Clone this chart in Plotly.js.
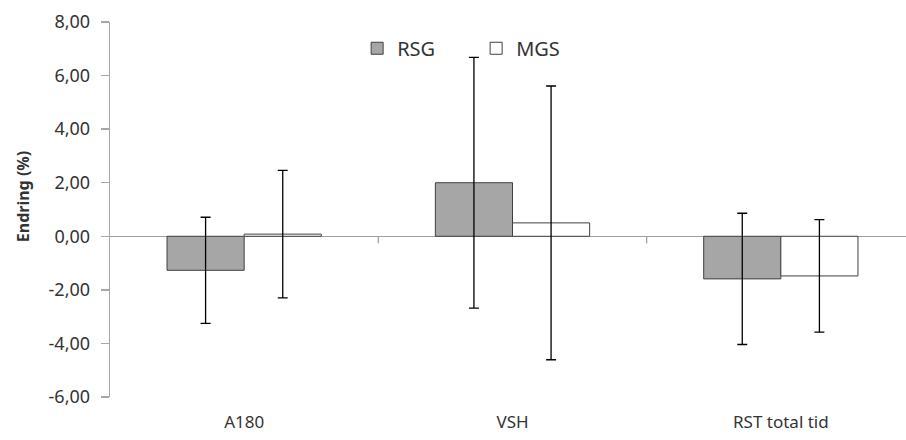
<!DOCTYPE html>
<html>
<head>
<meta charset="utf-8">
<script src="https://cdn.plot.ly/plotly-3.0.1.min.js"></script>
<style>
html,body{margin:0;padding:0;overflow:hidden;background:#fff;width:906px;height:440px;}
#chart{width:920px;height:440px;}
</style>
</head>
<body>
<div id="chart"></div>
<script>
var categories = ["A180", "VSH", "RST total tid"];
var rsgValues = [-1.27, 2.0, -1.59];
var rsgErrors = [1.98, 4.68, 2.45];
var mgsValues = [0.08, 0.50, -1.48];
var mgsErrors = [2.38, 5.11, 2.10];
var yTickVals = [-6, -4, -2, 0, 2, 4, 6, 8];
var yTickText = ["-6,00", "-4,00", "-2,00", "0,00", "2,00", "4,00", "6,00", "8,00"];
var yTitle = "Endring (%)";

var fam = "Noto Sans, Liberation Sans, sans-serif";
var col = "#333333";

var traces = [
  {
    type: "bar", name: "RSG", x: categories, y: rsgValues,
    marker: {color: "#a6a6a6", line: {color: "#404040", width: 1}},
    error_y: {type: "data", array: rsgErrors, visible: true, color: "#000000", thickness: 1.3, width: 5}
  },
  {
    type: "bar", name: "MGS", x: categories, y: mgsValues,
    marker: {color: "#ffffff", line: {color: "#404040", width: 1}},
    error_y: {type: "data", array: mgsErrors, visible: true, color: "#000000", thickness: 1.3, width: 5}
  }
];

var layout = {
  width: 920, height: 440,
  margin: {l: 110, r: 5, t: 22, b: 43},
  paper_bgcolor: "#ffffff", plot_bgcolor: "#ffffff",
  font: {family: fam, size: 18, color: col},
  barmode: "group", bargap: 0.425, bargroupgap: 0,
  showlegend: true,
  legend: {orientation: "h", x: 0.307, y: 0.93, xanchor: "left", yanchor: "middle",
           font: {family: fam, size: 20, color: col}, bgcolor: "rgba(0,0,0,0)",
           entrywidth: 74, traceorder: "normal"},
  xaxis: {
    type: "category", range: [-0.5, 2.5], showgrid: false, showline: false,
    zeroline: false, ticks: "", tickfont: {family: fam, size: 17, color: col},
    ticklabelstandoff: 13, fixedrange: true, automargin: false
  },
  yaxis: {
    range: [-6, 8], tickvals: yTickVals, ticktext: yTickText, automargin: false,
    showgrid: false, showline: true, linecolor: "#a6a6a6", linewidth: 1.3,
    ticks: "outside", ticklen: 8, tickcolor: "#a6a6a6", tickwidth: 1.3,
    zeroline: true, zerolinecolor: "#a0a0a0", zerolinewidth: 1.5,
    tickfont: {family: fam, size: 18, color: col}, ticklabelstandoff: 7
  },
  annotations: [{
    text: "<b>" + yTitle + "</b>", xref: "paper", yref: "paper", x: -0.108, y: 0.533,
    xanchor: "center", yanchor: "middle", textangle: -90, showarrow: false,
    font: {family: fam, size: 16, color: col}
  }],
  shapes: [0.5, 1.5].map(function (v) {
    return {type: "line", xref: "x", yref: "y", x0: v, x1: v, ysizemode: "pixel", yanchor: 0,
            y0: 0, y1: -7, line: {color: "#a0a0a0", width: 1.3}};
  })
};

Plotly.newPlot("chart", traces, layout, {displayModeBar: false, staticPlot: true});
</script>
</body>
</html>
